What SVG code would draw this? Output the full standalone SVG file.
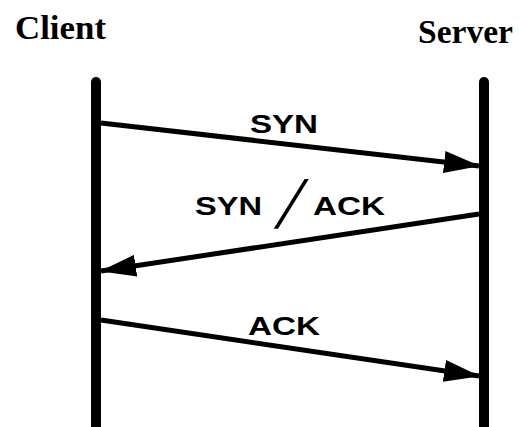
<svg xmlns="http://www.w3.org/2000/svg" width="519" height="427" viewBox="0 0 519 427">
  <style>
    .title { font-family: "Liberation Serif", "DejaVu Serif", serif; font-weight: bold; font-size: 33px; fill: #000; }
    .msg { font-family: "Liberation Sans", Arial, sans-serif; font-weight: bold; font-size: 25px; fill: #000; }
    .slash { font-family: "Liberation Sans", Arial, sans-serif; font-size: 54px; fill: #000; }
    .lifeline { stroke: #000; stroke-width: 10; stroke-linecap: round; fill: none; }
    .arrow { stroke: #000; stroke-width: 5; fill: none; marker-end: url(#head); }
  </style>
  <defs>
    <marker id="head" viewBox="0 0 36 22" refX="35" refY="11" markerWidth="36" markerHeight="22" markerUnits="userSpaceOnUse" orient="auto">
      <path d="M0,0 L36,11 L0,22 Z" fill="#000"/>
    </marker>
  </defs>
  <rect width="519" height="427" fill="#fff"/>

  <!-- participant: client -->
  <g id="client">
    <text class="title" x="15" y="39" textLength="91" lengthAdjust="spacingAndGlyphs">Client</text>
    <line class="lifeline" x1="96" y1="82" x2="96" y2="432"/>
  </g>

  <!-- participant: server -->
  <g id="server">
    <text class="title" x="418" y="43" textLength="95" lengthAdjust="spacingAndGlyphs">Server</text>
    <line class="lifeline" x1="484" y1="82" x2="484" y2="432"/>
  </g>

  <!-- handshake messages -->
  <g id="connectors">
    <line class="arrow" x1="101" y1="123" x2="479" y2="166"/>
    <line class="arrow" x1="479" y1="214" x2="101" y2="271"/>
    <line class="arrow" x1="101" y1="320" x2="479" y2="376"/>
  </g>

  <!-- message labels -->
  <g id="labels">
    <text class="msg" x="250" y="133" textLength="68" lengthAdjust="spacingAndGlyphs">SYN</text>
    <text class="msg" x="195" y="215" textLength="67" lengthAdjust="spacingAndGlyphs">SYN</text>
    <text class="slash" transform="translate(274,228) skewX(-22) scale(1,1.25)" x="0" y="0">/</text>
    <text class="msg" x="313" y="215" textLength="72" lengthAdjust="spacingAndGlyphs">ACK</text>
    <text class="msg" x="248" y="335" textLength="72" lengthAdjust="spacingAndGlyphs">ACK</text>
  </g>
</svg>
